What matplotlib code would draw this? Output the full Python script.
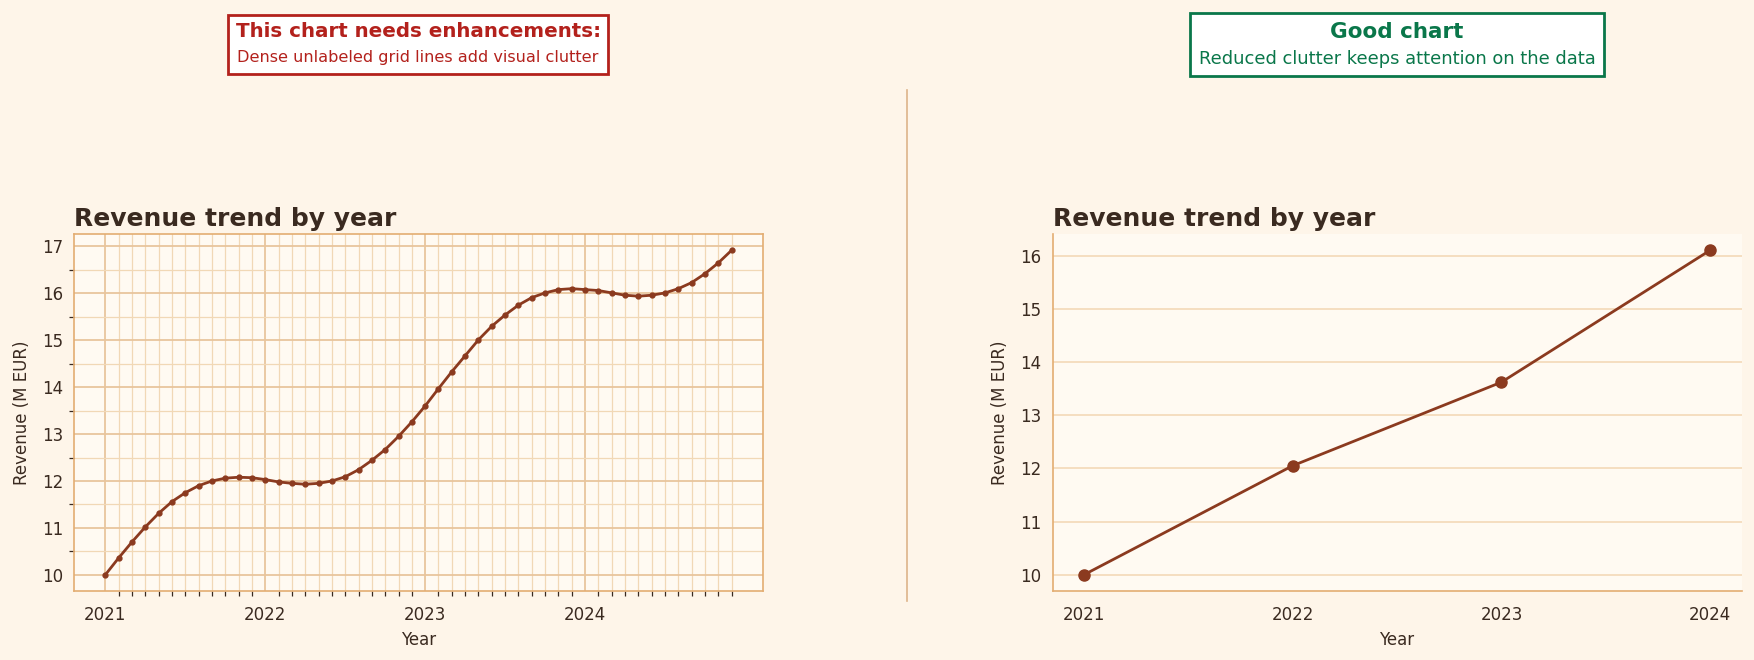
import numpy as np
import matplotlib.pyplot as plt
from matplotlib.patches import Rectangle
from matplotlib.lines import Line2D

# monthly revenue, Jan 2021 .. Dec 2024 (M EUR)
month_idx = np.arange(48)
monthly_rev = [10.00, 10.36, 10.70, 11.02, 11.31, 11.56, 11.75, 11.90, 12.00, 12.06, 12.08, 12.07,
               12.03, 11.98, 11.95, 11.93, 11.95, 12.00, 12.09, 12.24, 12.44, 12.67, 12.95, 13.26,
               13.60, 13.97, 14.33, 14.67, 15.01, 15.30, 15.54, 15.75, 15.91, 16.01, 16.08, 16.10,
               16.08, 16.06, 16.01, 15.96, 15.94, 15.96, 16.01, 16.10, 16.23, 16.42, 16.65, 16.92]
years = [2021, 2022, 2023, 2024]
yearly_rev = [10.00, 12.05, 13.62, 16.10]

bg = '#fef5e9'
ax_bg = '#fffaf2'
line_c = '#8b3a1f'
spine_c = '#e3ad72'
text_c = '#3a2a20'
bad_c = '#b3211c'
good_c = '#0a774a'

plt.rcParams['font.family'] = 'DejaVu Sans'
fig = plt.figure(figsize=(17.54, 6.6), dpi=100, facecolor=bg)

month_x = 2021 + month_idx / 12.0

# ---- left: cluttered version
ax1 = fig.add_axes([0.0422, 0.1045, 0.3928, 0.541], facecolor=ax_bg)
ax1.plot(month_x, monthly_rev, '-o', color=line_c, lw=2, ms=3.5, zorder=3)
ax1.set_xticks(years)
ax1.set_xticks([x for x in month_x if abs(x - round(x)) > 1e-6], minor=True)
ax1.set_yticks(range(10, 18))
ax1.set_yticks(np.arange(10.5, 17, 1.0), minor=True)
ax1.grid(which='major', color='#e8c59d', lw=1.3, zorder=0)
ax1.grid(which='minor', color='#f1d8b6', lw=0.9, zorder=0)
ax1.set_axisbelow(True)
for s in ax1.spines.values():
    s.set_color(spine_c)
    s.set_linewidth(1.2)
ax1.tick_params(which='major', length=0, labelsize=12, labelcolor=text_c, pad=8)
ax1.tick_params(axis='x', which='major', pad=11)
ax1.tick_params(which='minor', length=3.5, width=0.9, color=text_c)
ax1.set_title('Revenue trend by year', loc='left', fontsize=18, fontweight='bold', color=text_c, pad=6)
ax1.set_xlabel('Year', fontsize=12, color=text_c, labelpad=5)
ax1.set_ylabel('Revenue (M EUR)', fontsize=12, color=text_c, labelpad=8)

# ---- right: cleaned version
ax2 = fig.add_axes([0.6001, 0.1045, 0.3928, 0.541], facecolor=ax_bg)
ax2.plot(years, yearly_rev, '-o', color=line_c, lw=2, ms=8, zorder=3)
ax2.set_xticks(years)
ax2.grid(axis='y', color='#f3d6b3', lw=1.1, zorder=0)
ax2.set_axisbelow(True)
ax2.spines['top'].set_visible(False)
ax2.spines['right'].set_visible(False)
for s in ['left', 'bottom']:
    ax2.spines[s].set_color(spine_c)
    ax2.spines[s].set_linewidth(1.2)
ax2.tick_params(length=0, labelsize=12, labelcolor=text_c, pad=8)
ax2.tick_params(axis='x', pad=11)
ax2.set_title('Revenue trend by year', loc='left', fontsize=18, fontweight='bold', color=text_c, pad=6)
ax2.set_xlabel('Year', fontsize=12, color=text_c, labelpad=5)
ax2.set_ylabel('Revenue (M EUR)', fontsize=12, color=text_c, labelpad=8)

# ---- header boxes
fig.patches.append(Rectangle((0.1300, 0.888), 0.2166, 0.090, transform=fig.transFigure,
                             facecolor='white', edgecolor=bad_c, lw=2))
fig.text(0.2384, 0.953, 'This chart needs enhancements:', ha='center', va='center',
         fontsize=14.3, fontweight='bold', color=bad_c)
fig.text(0.2384, 0.913, 'Dense unlabeled grid lines add visual clutter', ha='center', va='center',
         fontsize=11.6, color=bad_c)

fig.patches.append(Rectangle((0.6785, 0.885), 0.2360, 0.096, transform=fig.transFigure,
                             facecolor='white', edgecolor=good_c, lw=2))
fig.text(0.7965, 0.952, 'Good chart', ha='center', va='center',
         fontsize=15.5, fontweight='bold', color=good_c)
fig.text(0.7965, 0.911, 'Reduced clutter keeps attention on the data', ha='center', va='center',
         fontsize=12.9, color=good_c)

# divider
fig.lines.append(Line2D([0.5171, 0.5171], [0.090, 0.864], transform=fig.transFigure,
                        color='#ddb48a', lw=1.2))

fig.savefig('out.png', dpi=100, facecolor=bg)
